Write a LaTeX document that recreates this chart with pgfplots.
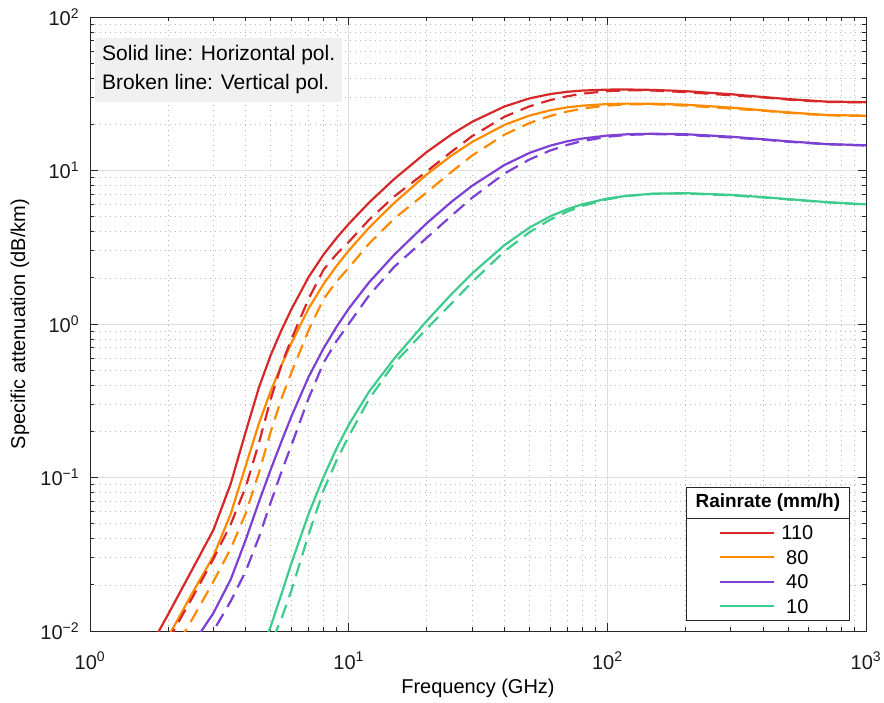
\documentclass[border=0pt]{standalone}
\usepackage{pgfplots}
\usepackage{pgfplotstable}
\pgfplotsset{compat=1.18}
\usepackage{fontspec}
\setmainfont{Liberation Sans}
\definecolor{cR}{RGB}{214,40,40}
\definecolor{cO}{RGB}{255,138,0}
\definecolor{cP}{RGB}{124,64,212}
\definecolor{cG}{RGB}{62,204,140}
\definecolor{axc}{RGB}{38,38,38}
\pgfplotstableread{
f h110 h80 h40 h10 v110 v80 v40 v10
1 0.002464 0.001810 0.000924 0.000241 0.001748 0.00133 0.000733 0.000223
1.5 0.005316 0.003843 0.001897 0.000462 0.003867 0.002907 0.001563 0.000452
2 0.01273 0.009065 0.004328 0.000987 0.008638 0.006384 0.003308 0.000887
2.5 0.02565 0.01795 0.008254 0.001745 0.01676 0.01216 0.006043 0.001493
3 0.04554 0.03076 0.01309 0.002373 0.02951 0.02100 0.01001 0.002275
3.5 0.09101 0.05793 0.02167 0.003031 0.04953 0.03446 0.01565 0.003228
4 0.1986 0.1193 0.03932 0.004272 0.08669 0.05829 0.02454 0.004352
4.5 0.3863 0.2252 0.06956 0.006636 0.1682 0.1077 0.04088 0.005877
5 0.6294 0.3666 0.1131 0.01076 0.3251 0.1996 0.06904 0.008256
5.5 0.9125 0.5395 0.1719 0.01746 0.5440 0.3281 0.1091 0.01207
6 1.243 0.7490 0.2488 0.02746 0.7924 0.4801 0.1614 0.01824
7 2.021 1.261 0.4518 0.05797 1.458 0.9118 0.3281 0.04249
8 2.838 1.823 0.6953 0.1011 2.261 1.457 0.5601 0.08271
9 3.652 2.402 0.9652 0.1559 2.870 1.903 0.7787 0.1303
10 4.482 3.004 1.257 0.2200 3.421 2.323 1.000 0.1855
12 6.188 4.247 1.871 0.3633 4.781 3.345 1.538 0.3248
15 8.800 6.152 2.825 0.5952 6.774 4.859 2.356 0.5544
20 13.16 9.404 4.521 1.044 9.840 7.192 3.634 0.9280
25 17.21 12.52 6.262 1.568 13.27 9.811 5.082 1.363
30 20.75 15.34 7.948 2.134 16.74 12.51 6.644 1.875
40 26.12 19.82 10.86 3.264 22.38 17.12 9.548 2.971
50 29.50 22.80 13.02 4.246 26.17 20.37 11.80 3.964
60 31.45 24.65 14.50 5.017 28.73 22.64 13.48 4.773
70 32.57 25.78 15.50 5.598 30.46 24.21 14.68 5.400
80 33.17 26.45 16.15 6.024 31.64 25.30 15.55 5.877
100 33.65 27.09 16.89 6.567 32.89 26.51 16.59 6.496
120 33.70 27.28 17.22 6.859 33.32 26.99 17.07 6.830
150 33.50 27.24 17.36 7.059 33.21 27.03 17.27 7.046
200 32.89 26.84 17.24 7.119 32.43 26.49 17.07 7.085
300 31.41 25.70 16.61 6.940 30.91 25.32 16.41 6.887
400 30.10 24.66 15.98 6.707 29.95 24.54 15.90 6.681
500 29.18 23.91 15.50 6.511 28.98 23.75 15.40 6.478
700 28.11 23.01 14.88 6.229 27.99 22.91 14.83 6.209
1000 27.87 22.74 14.60 6.016 27.77 22.66 14.55 5.997
}\data
\begin{document}
\fontsize{20}{24}\selectfont
\begin{tikzpicture}
\useasboundingbox (-90pt,-71pt) rectangle (794pt,631pt);
\begin{axis}[
  at={(0pt,0pt)}, anchor=south west,
  width=776pt, height=614pt, scale only axis,
  xmode=log, ymode=log,
  xmin=1, xmax=1000, ymin=0.01, ymax=100,
  xtick={1,10,100,1000},
  xticklabels={10\textsuperscript{0},10\textsuperscript{1},10\textsuperscript{2},10\textsuperscript{3}},
  ytick={0.01,0.1,1,10,100},
  yticklabels={10\textsuperscript{−2},10\textsuperscript{−1},10\textsuperscript{0},10\textsuperscript{1},10\textsuperscript{2}},
  minor xtick={2,3,4,5,6,7,8,9,20,30,40,50,60,70,80,90,200,300,400,500,600,700,800,900},
  minor ytick={0.02,0.03,0.04,0.05,0.06,0.07,0.08,0.09,0.2,0.3,0.4,0.5,0.6,0.7,0.8,0.9,2,3,4,5,6,7,8,9,20,30,40,50,60,70,80,90},
  grid=both,
  major grid style={line width=0.6pt, color=black!13},
  minor grid style={line width=0.6pt, color=black!28, dash pattern=on 1pt off 4pt},
  axis line style={line width=0.7pt, color=axc},
  tick style={line width=0.7pt, color=axc},
  major tick length=8pt, minor tick length=4pt,
  tick align=inside,
  ticklabel style={font=\fontsize{20}{24}\selectfont, color=black!90},
  xticklabel style={yshift=-14pt},
  yticklabel style={xshift=-4pt},
  xlabel={Frequency (GHz)},
  ylabel={Specific attenuation (dB/km)},
  label style={font=\fontsize{20}{24}\selectfont},
  xlabel style={at={(axis description cs:0.5,-0.0928)}, anchor=center},
  ylabel style={at={(axis description cs:-0.0902,0.5)}, anchor=center},
  legend image code/.code={\path[draw=none,fill=none] (-34pt,0pt) -- (0pt,0pt); \draw[#1,solid,line width=2.2pt] (0pt,0pt) -- (54pt,0pt);},
  legend style={at={(rel axis cs:0.979,0.016)}, anchor=south east,
    draw=axc, fill=white, line width=0.7pt,
    inner xsep=0pt, inner ysep=7.5pt, row sep=10.5pt,
    nodes={inner xsep=0pt, inner ysep=0pt, text height=14pt, text depth=0pt},
    font=\fontsize{20}{24}\selectfont},
  legend cell align=left,
]
\addplot[cR, line width=2.2pt] table[x=f, y=h110] {\data};
\addlegendentry{\makebox[44pt][c]{110}\hspace*{30pt}}
\addplot[cO, line width=2.2pt] table[x=f, y=h80] {\data};
\addlegendentry{\makebox[44pt][c]{80}\hspace*{30pt}}
\addplot[cP, line width=2.2pt] table[x=f, y=h40] {\data};
\addlegendentry{\makebox[44pt][c]{40}\hspace*{30pt}}
\addplot[cG, line width=2.2pt] table[x=f, y=h10] {\data};
\addlegendentry{\makebox[44pt][c]{10}\hspace*{30pt}}
\addplot[cR, line width=2.2pt, dash pattern=on 14pt off 8pt, forget plot] table[x=f, y=v110] {\data};
\addplot[cO, line width=2.2pt, dash pattern=on 14pt off 8pt, forget plot] table[x=f, y=v80] {\data};
\addplot[cP, line width=2.2pt, dash pattern=on 14pt off 8pt, forget plot] table[x=f, y=v40] {\data};
\addplot[cG, line width=2.2pt, dash pattern=on 14pt off 8pt, forget plot] table[x=f, y=v10] {\data};
\node[anchor=north west, fill=black!6, align=left, inner xsep=7pt, inner ysep=7.5pt,
  font=\fontsize{21}{29}\selectfont] at (rel axis cs:0.0064,0.966)
  {Solid line: Horizontal pol.\\Broken line: Vertical pol.};
\node[anchor=south east, draw=axc, line width=0.7pt, fill=white, minimum width=163pt, minimum height=31pt,
  inner sep=0pt, font=\fontsize{19}{22}\selectfont\bfseries] at (rel axis cs:0.979,0.183) {Rainrate (mm/h)};
\end{axis}
\end{tikzpicture}
\end{document}
